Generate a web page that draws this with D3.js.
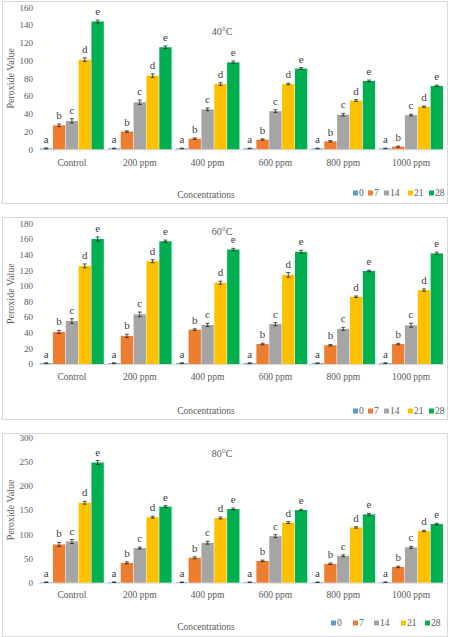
<!DOCTYPE html>
<html>
<head>
    <title>Peroxide Value</title>
    <meta charset="utf-8">
</head>
<body style="margin:0">
<style>
    text {
        font-family: 'Liberation Serif', 'Times New Roman', serif;
        fill: #595959;
    }
    .letter {
        fill: #404040;
        font-size: 11px;
    }
</style>
<script src="https://d3js.org/d3.v7.min.js"></script>
<script>
    // Data
    const categories = ['Control', '200 ppm', '400 ppm', '600 ppm', '800 ppm', '1000 ppm'];
    const days = ['0', '7', '14', '21', '28'];
    const letters = ['a', 'b', 'c', 'd', 'e'];

    const pv40 = [
        [1, 27, 32, 101, 144],
        [1, 20, 53, 83, 115],
        [1, 12, 45, 73.5, 98],
        [1, 11, 43, 73.5, 91],
        [1, 9, 39, 55, 77],
        [1, 3, 38.5, 48, 71.5]
    ];
    const err40 = [
        [0.5, 1.5, 2.5, 2, 1.5],
        [0.3, 0.8, 2.5, 2, 1.5],
        [0.3, 0.8, 1.5, 1.5, 1.5],
        [0.3, 0.8, 1.5, 1, 1],
        [0.3, 0.8, 1.5, 1, 1],
        [0.3, 0.6, 1, 0.8, 0.8]
    ];
    const pv60 = [
        [1, 41, 55, 125.5, 160],
        [1, 36, 63.5, 131.5, 157],
        [1, 44, 50, 104, 146.5],
        [1, 25.5, 51, 114, 143.5],
        [1, 24, 45, 86, 119],
        [1, 25.5, 49.5, 94.5, 141.5]
    ];
    const err60 = [
        [0.5, 2, 3, 2.5, 2.5],
        [0.5, 2, 3, 2, 1.5],
        [0.5, 1, 2, 2, 1.5],
        [0.5, 1, 2, 3, 2],
        [0.5, 1, 2, 1, 1],
        [0.5, 1, 2.5, 1.5, 1.5]
    ];
    const pv80 = [
        [1, 79, 85, 165, 248],
        [1, 41, 71.5, 135, 157],
        [1, 51.5, 82.5, 133.5, 152],
        [1, 45, 96, 124, 150],
        [1, 39, 55.5, 114, 141],
        [1, 32.5, 73, 106.5, 121]
    ];
    const err80 = [
        [0.5, 4, 4, 3, 4],
        [0.5, 2, 2, 2, 2],
        [0.5, 2, 3, 2, 2],
        [0.5, 1.5, 3, 2, 1.5],
        [0.5, 1.5, 2, 1.5, 2],
        [0.5, 1.5, 2, 1.5, 1.5]
    ];

    const COLORS = ['#5b9bd5', '#ed7d31', '#a5a5a5', '#ffc000', '#00b050'];

    // layout of the three stacked panels
    const PANELS = [
        {title: '40°C', values: pv40, errors: err40, max: 160, step: 20, top: 1, bottom: 203,
            y0: 149.3, y1: 7.3, titleY: 35, catY: 166, axisTitleY: 198, legendY: 193,
            legendX: [353, 368, 384, 408, 429]},
        {title: '60°C', values: pv60, errors: err60, max: 180, step: 20, top: 217, bottom: 419,
            y0: 364, y1: 223.3, titleY: 235, catY: 380, axisTitleY: 414, legendY: 411,
            legendX: [353, 368, 384, 408, 429]},
        {title: '80°C', values: pv80, errors: err80, max: 300, step: 50, top: 433, bottom: 636,
            y0: 582.7, y1: 437.3, titleY: 457, catY: 598.5, axisTitleY: 630, legendY: 623,
            legendX: [331, 353, 374, 401, 425]}
    ];

    const SIZES = {WIDTH: 450, HEIGHT: 637, LEFT: 38, RIGHT: 445};

    const svg = d3.select('body').append('svg')
        .attr('width', SIZES.WIDTH)
        .attr('height', SIZES.HEIGHT);

    const x0 = d3.scaleBand()
        .domain(categories)
        .range([SIZES.LEFT, SIZES.RIGHT])
        .paddingInner(0.06)
        .paddingOuter(0.03);

    const x1 = d3.scaleBand()
        .domain(days)
        .range([0, x0.bandwidth()])
        .paddingInner(0.04);

    PANELS.forEach(p => {
        const g = svg.append('g');

        // frame
        g.append('rect')
            .attr('x', 2.5).attr('y', p.top + 0.5)
            .attr('width', 445).attr('height', p.bottom - p.top)
            .attr('fill', 'white')
            .attr('stroke', '#d9d9d9');

        const y = d3.scaleLinear().domain([0, p.max]).range([p.y0, p.y1]);

        // y tick labels (no axis line)
        const yAxis = g.append('g')
            .attr('transform', `translate(${SIZES.LEFT},0)`)
            .call(d3.axisLeft(y).tickValues(d3.range(0, p.max + 1, p.step)).tickSize(0).tickPadding(5));
        yAxis.select('.domain').remove();
        yAxis.selectAll('text')
            .style('font-family', "'Liberation Serif', serif")
            .style('font-size', '9px')
            .attr('fill', '#595959');

        // x axis
        const xAxis = g.append('g')
            .attr('transform', `translate(0,${p.y0})`)
            .call(d3.axisBottom(x0).tickSize(0).tickPadding(0));
        xAxis.select('.domain').attr('stroke', '#d9d9d9');
        xAxis.selectAll('text')
            .attr('y', p.catY - p.y0)
            .attr('dy', 0)
            .style('font-family', "'Liberation Serif', serif")
            .style('font-size', '9.5px')
            .attr('fill', '#595959');

        const groups = g.selectAll('.grp')
            .data(categories)
            .join('g')
            .attr('class', 'grp')
            .attr('transform', d => `translate(${x0(d)},0)`);

        const items = (c, i) => days.map((d, j) => ({
            day: d, j, v: p.values[i][j], e: p.errors[i][j]
        }));

        groups.selectAll('rect')
            .data(items)
            .join('rect')
            .attr('x', d => x1(d.day))
            .attr('width', x1.bandwidth())
            .attr('y', d => y(d.v))
            .attr('height', d => y(0) - y(d.v))
            .attr('fill', d => COLORS[d.j]);

        // error bars
        const eb = groups.selectAll('.err')
            .data(items)
            .join('g')
            .attr('class', 'err')
            .attr('stroke', '#262626')
            .attr('stroke-width', 0.8);
        const cx = d => x1(d.day) + x1.bandwidth() / 2;
        eb.append('line')
            .attr('x1', cx).attr('x2', cx)
            .attr('y1', d => y(d.v - d.e)).attr('y2', d => y(d.v + d.e));
        eb.append('line')
            .attr('x1', d => cx(d) - 2).attr('x2', d => cx(d) + 2)
            .attr('y1', d => y(d.v + d.e)).attr('y2', d => y(d.v + d.e));
        eb.append('line')
            .attr('x1', d => cx(d) - 2).attr('x2', d => cx(d) + 2)
            .attr('y1', d => y(d.v - d.e)).attr('y2', d => y(d.v - d.e));

        // significance letters
        groups.selectAll('.letter')
            .data(items)
            .join('text')
            .attr('class', 'letter')
            .attr('x', cx)
            .attr('y', d => y(d.v + d.e) - 5)
            .attr('text-anchor', 'middle')
            .text(d => letters[d.j]);

        // title
        g.append('text')
            .attr('x', 222).attr('y', p.titleY)
            .attr('text-anchor', 'middle')
            .style('font-size', '10px')
            .text(p.title);

        // axis titles
        g.append('text')
            .attr('transform', `translate(14,${(p.y0 + p.y1) / 2}) rotate(-90)`)
            .attr('text-anchor', 'middle')
            .style('font-size', '10px')
            .text('Peroxide Value');
        g.append('text')
            .attr('x', 206).attr('y', p.axisTitleY)
            .attr('text-anchor', 'middle')
            .style('font-size', '9.5px')
            .text('Concentrations');

        // legend
        days.forEach((d, j) => {
            g.append('rect')
                .attr('x', p.legendX[j]).attr('y', p.legendY - 2.5)
                .attr('width', 5).attr('height', 5)
                .attr('fill', COLORS[j]);
            g.append('text')
                .attr('x', p.legendX[j] + 6).attr('y', p.legendY + 3.3)
                .style('font-size', '9.5px')
                .text(d);
        });
    });
</script>
</body>
</html>
